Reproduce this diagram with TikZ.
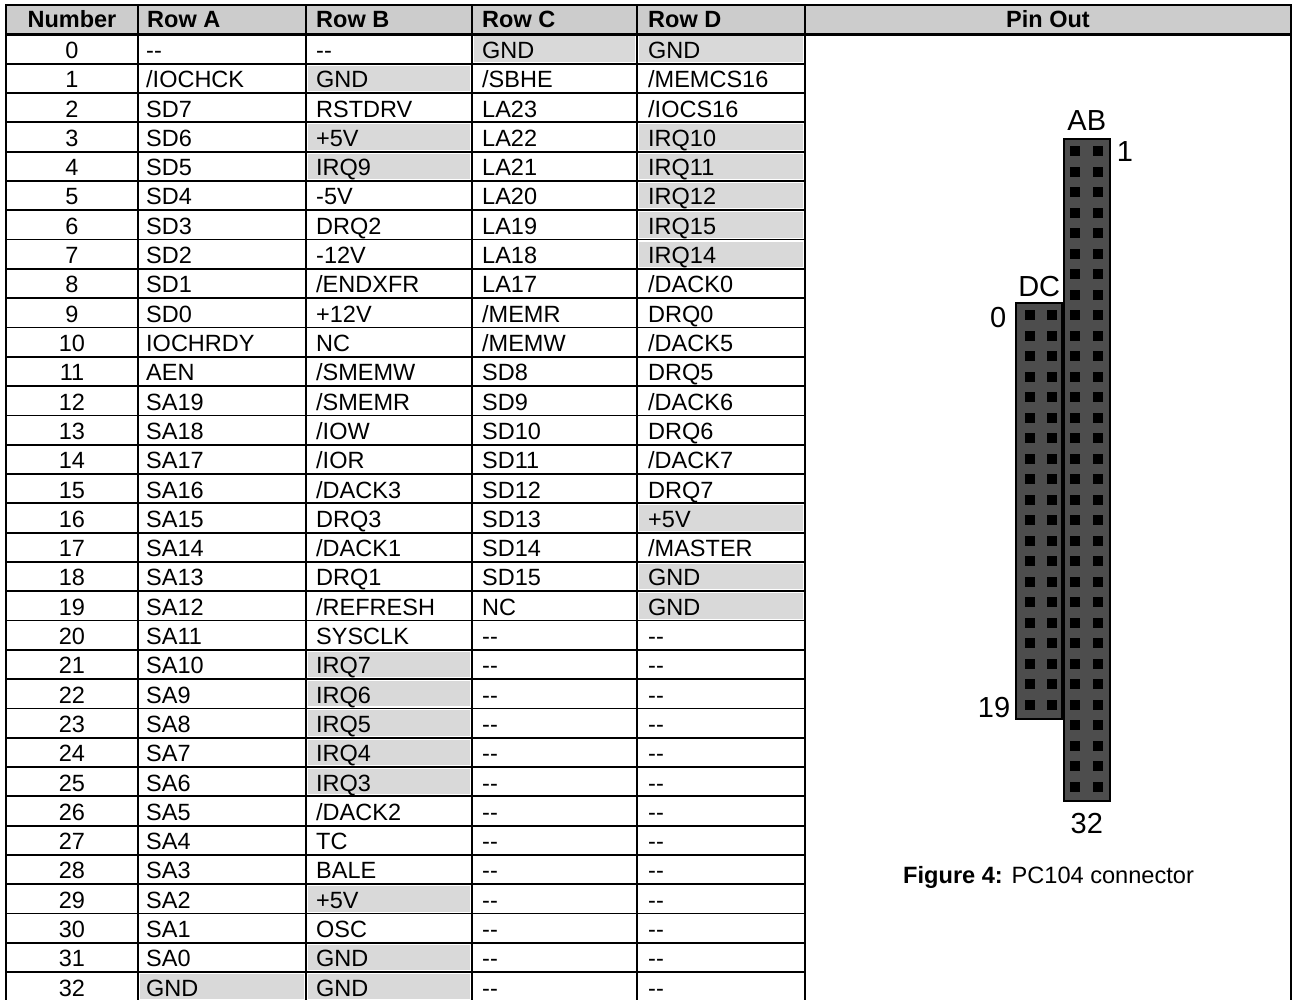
\documentclass[tikz,border=0pt]{standalone}
\usepackage{fontspec}
\setmainfont{Liberation Sans}
\usetikzlibrary{positioning}
\definecolor{cellgray}{HTML}{D9D9D9}
\definecolor{headgray}{HTML}{CCCCCC}
\definecolor{pingray}{HTML}{4D4D4D}
\newcommand{\nopin}{-{}-}
\tikzset{
  grid/.style={draw=black, line width=2.2pt},
  thingrid/.style={draw=black, line width=1.8pt},
  cell/.style={anchor=base west, inner sep=0pt, font=\fontsize{23.5}{26}\selectfont},
  numcell/.style={cell, anchor=base},
  head/.style={cell, font=\fontsize{23.5}{26}\selectfont\bfseries},
  shaded/.style={fill=cellgray},
  pinbody/.style={fill=pingray, draw=black, line width=1.6pt, inner sep=0pt},
  pinhole/.style={fill=black},
  pinlabel/.style={inner sep=0pt, font=\fontsize{29}{32}\selectfont},
  caption/.style={inner sep=0pt, font=\fontsize{23.6}{26}\selectfont}
}

\begin{document}
\begin{tikzpicture}[x=1pt,y=-1pt]
  \useasboundingbox (0,0) rectangle (1292,1000);

  % Header band.
  \fill[headgray] (6,5) rectangle (1291,34.5);
  \node[head, anchor=base] (hnum) at (72,28) {Number};
  \node[head] (hrowa) at (147,28) {Row A};
  \node[head] (hrowb) at (316,28) {Row B};
  \node[head] (hrowc) at (482,28) {Row C};
  \node[head] (hrowd) at (648,28) {Row D};
  \node[head, anchor=base] (hpin) at (1048,28) {Pin Out};

  % Shade the power and ground cells.
  \foreach \xl/\xr/\k in {472/637/0, 637/805/0, 306/472/1, 306/472/3, 637/805/3,
      306/472/4, 637/805/4, 637/805/5, 637/805/6, 637/805/7, 637/805/16,
      637/805/18, 637/805/19, 306/472/21, 306/472/22, 306/472/23, 306/472/24,
      306/472/25, 306/472/29, 306/472/31, 138/306/32, 306/472/32}
    \fill[shaded] (\xl+2,34.5+29.3*\k+2) rectangle (\xr-2,34.5+29.3*\k+27.3);

  % Table body, one row per pin number.
  \foreach \n/\a/\b/\c/\d in {
      0/\nopin/\nopin/GND/GND,
      1/{/IOCHCK}/GND/{/SBHE}/{/MEMCS16},
      2/SD7/RSTDRV/LA23/{/IOCS16},
      3/SD6/+5V/LA22/IRQ10,
      4/SD5/IRQ9/LA21/IRQ11,
      5/SD4/-5V/LA20/IRQ12,
      6/SD3/DRQ2/LA19/IRQ15,
      7/SD2/-12V/LA18/IRQ14,
      8/SD1/{/ENDXFR}/LA17/{/DACK0},
      9/SD0/+12V/{/MEMR}/DRQ0,
      10/IOCHRDY/NC/{/MEMW}/{/DACK5},
      11/AEN/{/SMEMW}/SD8/DRQ5,
      12/SA19/{/SMEMR}/SD9/{/DACK6},
      13/SA18/{/IOW}/SD10/DRQ6,
      14/SA17/{/IOR}/SD11/{/DACK7},
      15/SA16/{/DACK3}/SD12/DRQ7,
      16/SA15/DRQ3/SD13/+5V,
      17/SA14/{/DACK1}/SD14/{/MASTER},
      18/SA13/DRQ1/SD15/GND,
      19/SA12/{/REFRESH}/NC/GND,
      20/SA11/SYSCLK/\nopin/\nopin,
      21/SA10/IRQ7/\nopin/\nopin,
      22/SA9/IRQ6/\nopin/\nopin,
      23/SA8/IRQ5/\nopin/\nopin,
      24/SA7/IRQ4/\nopin/\nopin,
      25/SA6/IRQ3/\nopin/\nopin,
      26/SA5/{/DACK2}/\nopin/\nopin,
      27/SA4/TC/\nopin/\nopin,
      28/SA3/BALE/\nopin/\nopin,
      29/SA2/+5V/\nopin/\nopin,
      30/SA1/OSC/\nopin/\nopin,
      31/SA0/GND/\nopin/\nopin,
      32/GND/GND/\nopin/\nopin}{
    \node[numcell] (num\n) at (72,58.5+29.3*\n) {\n};
    \node[cell] (a\n) at (146,58.5+29.3*\n) {\a};
    \node[cell] (b\n) at (316,58.5+29.3*\n) {\b};
    \node[cell] (c\n) at (482,58.5+29.3*\n) {\c};
    \node[cell] (d\n) at (648,58.5+29.3*\n) {\d};
  }

  % Ruling.
  \foreach \k in {1,...,32}
    \draw[thingrid] (6,34.5+29.3*\k) -- (805,34.5+29.3*\k);
  \foreach \x in {138,306,472,637,805}
    \draw[grid] (\x,5) -- (\x,1002);
  \draw[grid] (6,34.5) -- (1291,34.5);
  \draw[grid] (6,5) rectangle (1291,1002);

  % Connector bodies.
  \node[pinbody, anchor=north east, minimum width=46pt, minimum height=416pt] (dcbody) at (1063,302) {};
  \node[pinbody, anchor=north west, minimum width=46pt, minimum height=662pt] (abbody) at (1063,138) {};

  % Pin holes.
  \foreach \k in {0,...,31}
    \foreach \x in {1075,1098}
      \fill[pinhole] (\x-5,151.3+20.5*\k-5) rectangle ++(10,10);
  \foreach \k in {0,...,19}
    \foreach \x in {1029.5,1052}
      \fill[pinhole] (\x-5,315.3+20.5*\k-5) rectangle ++(10,10);

  % Connector labels.
  \node[pinlabel, above=7pt of abbody] (lblab) {AB};
  \node[pinlabel, below right=3pt and 6pt of abbody.north east] (lblone) {1};
  \node[pinlabel, above=5pt of dcbody] (lbldc) {DC};
  \node[pinlabel, below left=5pt and 9pt of dcbody.north west] (lblzero) {0};
  \node[pinlabel, above left=2pt and 5pt of dcbody.south west] (lblnineteen) {19};
  \node[pinlabel, below=11pt of abbody] (lblthirtytwo) {32};

  % Caption.
  \node[caption, anchor=west] (figcap) at (903,877) {\textbf{Figure 4:} PC104 connector};
\end{tikzpicture}
\end{document}
